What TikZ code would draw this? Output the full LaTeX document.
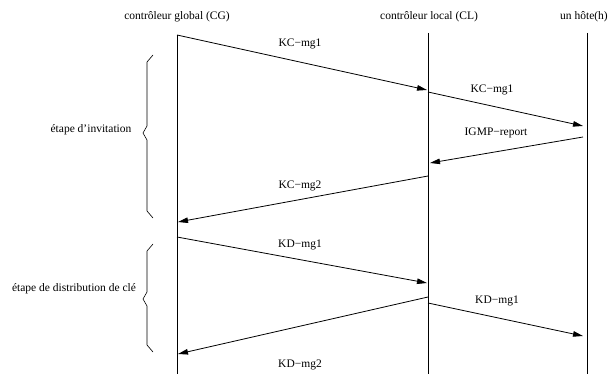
\documentclass[tikz,border=0pt]{standalone}
\usepackage{fontspec}
\setmainfont{Liberation Serif}
\usetikzlibrary{arrows.meta}
\begin{document}
\begin{tikzpicture}[x=1pt,y=-1pt,
  lifeline/.style={draw=black,line width=0.7pt},
  msg/.style={draw=black,line width=0.8pt,-{Triangle[length=10pt,width=5.5pt]}},
  lbl/.style={font=\fontsize{11.5}{13}\selectfont,inner sep=0pt},
  bracestyle/.style={draw=black,line width=0.6pt}]
\useasboundingbox (0,0) rectangle (610,377);
% headers
\node[lbl] (hcg) at (177,17) {contrôleur global (CG)};
\node[lbl] (hcl) at (429,17) {contrôleur local (CL)};
\node[lbl] (hh) at (584,17) {un hôte(h)};
% lifelines
\coordinate (cgtop) at (177,35);
\coordinate (cgbot) at (177,374);
\coordinate (cltop) at (428,33);
\coordinate (clbot) at (428,374);
\coordinate (htop) at (587,33);
\coordinate (hbot) at (587,374);
\draw[lifeline] (cgtop) -- (cgbot);
\draw[lifeline] (cltop) -- (clbot);
\draw[lifeline] (htop) -- (hbot);
% message endpoints
\coordinate (a1s) at (177,35);  \coordinate (a1e) at (427,90);
\coordinate (a2s) at (428,92);  \coordinate (a2e) at (583,126);
\coordinate (a3s) at (583,137); \coordinate (a3e) at (430,163);
\coordinate (a4s) at (428,176); \coordinate (a4e) at (178,222);
\coordinate (a5s) at (177,237); \coordinate (a5e) at (427,283);
\coordinate (a6s) at (428,297); \coordinate (a6e) at (178,354);
\coordinate (a7s) at (428,303); \coordinate (a7e) at (583,336);
\draw[msg] (a1s) -- (a1e);
\draw[msg] (a2s) -- (a2e);
\draw[msg] (a3s) -- (a3e);
\draw[msg] (a4s) -- (a4e);
\draw[msg] (a5s) -- (a5e);
\draw[msg] (a6s) -- (a6e);
\draw[msg] (a7s) -- (a7e);
% message labels
\node[lbl] (l1) at (300,44) {KC−mg1};
\node[lbl] (l2) at (492,90) {KC−mg1};
\node[lbl] (l3) at (496,133) {IGMP−report};
\node[lbl] (l4) at (300,186) {KC−mg2};
\node[lbl] (l5) at (300,245) {KD−mg1};
\node[lbl] (l6) at (497,301) {KD−mg1};
\node[lbl] (l7) at (300,365) {KD−mg2};
% braces
\draw[bracestyle] (153,55) -- (147,62) -- (147,126) -- (143,133) -- (147,140) -- (147,211) -- (153,218);
\draw[bracestyle] (153,244) -- (147,251) -- (147,292) -- (143,299) -- (147,306) -- (147,345) -- (153,352);
\node[lbl] (p1) at (91,130) {étape d’invitation};
\node[lbl] (p2) at (74,289) {étape de distribution de clé};
\end{tikzpicture}
\end{document}
